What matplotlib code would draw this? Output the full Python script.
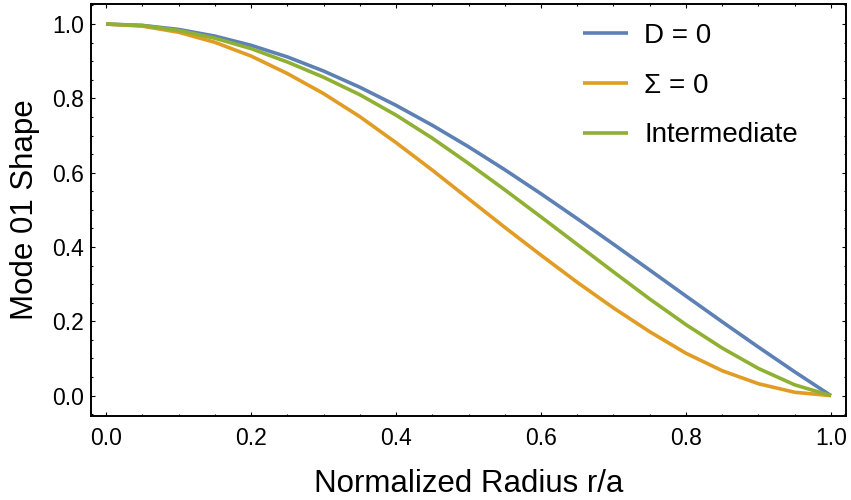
import numpy as np
import matplotlib
matplotlib.use("Agg")
import matplotlib.pyplot as plt
from matplotlib.ticker import MultipleLocator

# radius samples (r/a) and mode shapes
r = [0.00, 0.05, 0.10, 0.15, 0.20, 0.25, 0.30, 0.35, 0.40, 0.45, 0.50,
     0.55, 0.60, 0.65, 0.70, 0.75, 0.80, 0.85, 0.90, 0.95, 1.00]

d_zero = [1.0, 0.9964, 0.9856, 0.9677, 0.9429, 0.9117, 0.8737, 0.8301, 0.7813, 0.7277, 0.6699,
          0.6081, 0.5433, 0.4762, 0.4075, 0.3379, 0.2680, 0.1986, 0.1305, 0.0640, 0.0]

sigma_zero = [1.0, 0.9945, 0.978, 0.951, 0.914, 0.867, 0.813, 0.751, 0.681, 0.607, 0.530,
              0.453, 0.378, 0.305, 0.236, 0.172, 0.114, 0.067, 0.032, 0.009, 0.0]

intermediate = [1.0, 0.996, 0.983, 0.962, 0.934, 0.898, 0.857, 0.810, 0.755, 0.693, 0.625,
                0.554, 0.481, 0.407, 0.333, 0.260, 0.191, 0.128, 0.073, 0.029, 0.0]

labels = ["D = 0", "\u03a3 = 0", "Intermediate"]
colors = ["#5E81B5", "#E19C24", "#8FB032"]

plt.rcParams['font.family'] = ['Liberation Sans', 'DejaVu Sans']

fig = plt.figure(figsize=(8.51, 5.0), dpi=100)
ax = fig.add_axes([91 / 851, 1 - 415.7 / 500, (846 - 91) / 851, (415.7 - 4) / 500])

for ys, lab, c in zip([d_zero, sigma_zero, intermediate], labels, colors):
    ax.plot(r, ys, color=c, lw=2.6, label=lab, solid_capstyle='butt', solid_joinstyle='round')

ax.set_xlim(-0.0207, 1.0207)
ax.set_ylim(-0.054, 1.054)

ax.xaxis.set_major_locator(MultipleLocator(0.2))
ax.xaxis.set_minor_locator(MultipleLocator(0.05))
ax.yaxis.set_major_locator(MultipleLocator(0.2))
ax.yaxis.set_minor_locator(MultipleLocator(0.05))
ax.xaxis.set_major_formatter(lambda v, p: f"{v:.1f}")
ax.yaxis.set_major_formatter(lambda v, p: f"{v:.1f}")

ax.tick_params(which='both', direction='in', top=True, right=True, width=0.8, labelsize=16.5)
ax.tick_params(which='major', length=3)
ax.tick_params(which='minor', length=1.7)
ax.tick_params(axis='x', pad=8)
ax.tick_params(axis='y', pad=5)

for sp in ax.spines.values():
    sp.set_linewidth(1.4)

ax.set_xlabel("Normalized Radius r/a", fontsize=22.5, labelpad=14)
ax.set_ylabel("Mode 01 Shape", fontsize=22.5, labelpad=9)

ax.legend(loc='upper left', bbox_to_anchor=(583 / 851, 1 - 23 / 500),
          bbox_transform=fig.transFigure, frameon=False, fontsize=20,
          handlelength=1.62, handletextpad=0.58, labelspacing=0.85,
          borderpad=0, borderaxespad=0)

fig.savefig("out.png", dpi=100)
